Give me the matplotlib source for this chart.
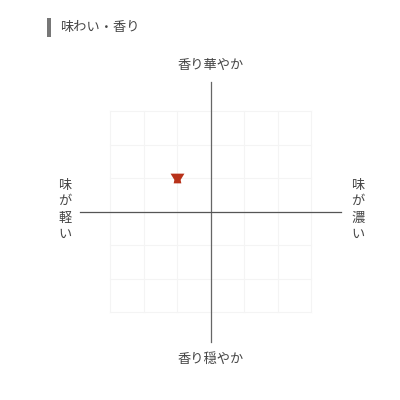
import matplotlib.pyplot as plt
from matplotlib.patches import Rectangle
from matplotlib.path import Path

plt.rcParams['font.family'] = ['Noto Sans CJK JP', 'DejaVu Sans']

title = '味わい・香り'
top_label = '香り華やか'
bottom_label = '香り穏やか'
left_label = '味が軽い'
right_label = '味が濃い'

grid_ticks = [-3, -2, -1, 0, 1, 2, 3]
point_x = [-1]
point_y = [1]

text_color = '#444444'
unit = 33.5  # px per grid cell
cx = 210.5
cy = 211.5

fig = plt.figure(figsize=(4, 4), dpi=100, facecolor='white')
ax = fig.add_axes([0, 0, 1, 1])
ax.set_xlim(-cx / unit, (400 - cx) / unit)
ax.set_ylim(-(400 - cy) / unit, cy / unit)
ax.axis('off')

# light grid
for t in grid_ticks:
    ax.plot([t, t], [-3, 3], color='#f4f4f4', lw=0.8, zorder=1)
    ax.plot([-3, 3], [t, t], color='#f4f4f4', lw=0.8, zorder=1)

# main axes
ax.plot([0, 0], [-3.9, 3.87], color='#666666', lw=0.9, zorder=2)
ax.plot([-3.9, 3.9], [0, 0], color='#555555', lw=0.9, zorder=2)

# sake cup marker
cup = Path([(-1, 0.7), (1, 0.7), (0.45, -0.2), (0.55, -0.7), (-0.55, -0.7),
            (-0.45, -0.2), (-1, 0.7)], closed=True)
ax.plot(point_x, point_y, linestyle='none', marker=cup, ms=10,
        color='#b8321a', mew=0, zorder=3)

ax.text(0, 4.36, top_label, ha='center', va='center', fontsize=9.5,
        color=text_color)
ax.text(0, -4.42, bottom_label, ha='center', va='center', fontsize=9.5,
        color=text_color)


def vertical(label, x):
    for i, ch in enumerate(label):
        ax.text(x, 0.78 - i * 0.49, ch, ha='center', va='center', fontsize=9.5,
                color=text_color)


vertical(left_label, -4.34)
vertical(right_label, 4.4)

# heading
fig.add_artist(Rectangle((47 / 400, 1 - 37 / 400), 3.5 / 400, 19 / 400,
                         transform=fig.transFigure, color='#777777', lw=0))
fig.text(60 / 400, 1 - 27.5 / 400, title, ha='left', va='center', fontsize=9.5,
         color=text_color)

fig.savefig('out.png', dpi=100)
